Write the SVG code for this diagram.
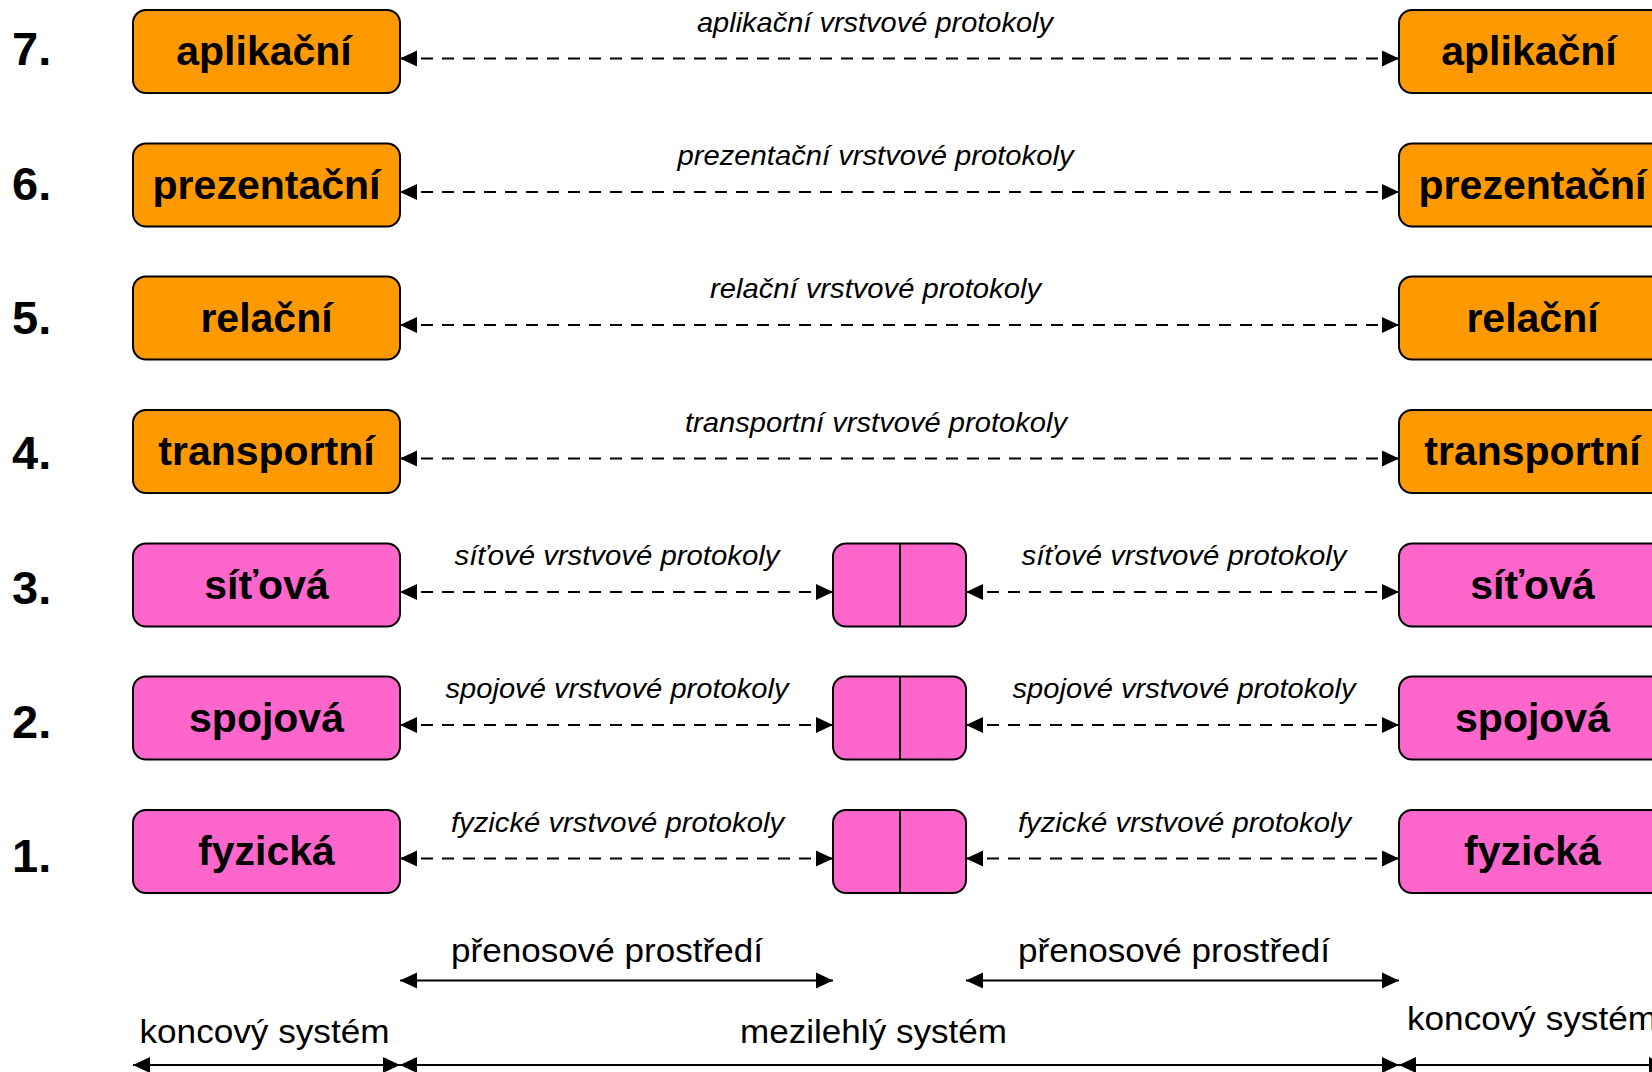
<svg xmlns="http://www.w3.org/2000/svg" width="1652" height="1072" viewBox="0 0 1652 1072">
  <defs>
    <style>
      .bg { fill: #ffffff; }
      .upper { fill: #FF9900; stroke: #000; stroke-width: 2; }
      .lower { fill: #FF66CC; stroke: #000; stroke-width: 2; }
      .div { stroke: #000; stroke-width: 2; }
      .name { font-family: "Liberation Sans", Arial, sans-serif; font-weight: bold; font-size: 41px; text-anchor: middle; fill: #000; }
      .num { font-family: "Liberation Sans", Arial, sans-serif; font-weight: bold; font-size: 47px; fill: #000; }
      .proto { font-family: "Liberation Sans", Arial, sans-serif; font-style: italic; font-size: 28px; text-anchor: middle; fill: #000; }
      .span { font-family: "Liberation Sans", Arial, sans-serif; font-size: 33px; text-anchor: middle; fill: #000; }
      .dash { fill: none; stroke: #000; stroke-width: 2; stroke-dasharray: 12 9; marker-start: url(#head); marker-end: url(#head); }
      .solid { fill: none; stroke: #000; stroke-width: 2; marker-start: url(#head); marker-end: url(#head); }
    </style>
    <marker id="head" markerUnits="userSpaceOnUse" markerWidth="17" markerHeight="16" refX="17" refY="8" orient="auto-start-reverse" overflow="visible">
      <path d="M0,0 L17,8 L0,16 Z" fill="#000" stroke="none"/>
    </marker>
  </defs>

  <rect class="bg" x="0" y="0" width="1652" height="1072"/>

  <!-- layer numbers -->
  <g id="layer-numbers">
    <text class="num" x="12" y="65">7.</text>
    <text class="num" x="12" y="199.5">6.</text>
    <text class="num" x="12" y="334">5.</text>
    <text class="num" x="12" y="468.5">4.</text>
    <text class="num" x="12" y="604">3.</text>
    <text class="num" x="12" y="738">2.</text>
    <text class="num" x="12" y="872">1.</text>
  </g>

  <!-- left end system -->
  <g id="left-aplikacni"><rect class="upper" x="133" y="10" width="267" height="83" rx="13"/><text class="name" x="264" y="65">aplikační</text></g>
  <g id="left-prezentacni"><rect class="upper" x="133" y="143.5" width="267" height="83" rx="13"/><text class="name" x="266.5" y="198.5">prezentační</text></g>
  <g id="left-relacni"><rect class="upper" x="133" y="276.5" width="267" height="83" rx="13"/><text class="name" x="266.5" y="331.5">relační</text></g>
  <g id="left-transportni"><rect class="upper" x="133" y="410" width="267" height="83" rx="13"/><text class="name" x="266.5" y="465">transportní</text></g>
  <g id="left-sitova"><rect class="lower" x="133" y="543.5" width="267" height="83" rx="13"/><text class="name" x="266.5" y="598.5">síťová</text></g>
  <g id="left-spojova"><rect class="lower" x="133" y="676.5" width="267" height="83" rx="13"/><text class="name" x="266.5" y="731.5">spojová</text></g>
  <g id="left-fyzicka"><rect class="lower" x="133" y="810" width="267" height="83" rx="13"/><text class="name" x="266.5" y="865">fyzická</text></g>

  <!-- intermediate system -->
  <g id="mid-sitova"><rect class="lower" x="833" y="543.5" width="133" height="83" rx="13"/><line class="div" x1="900" y1="543.5" x2="900" y2="626.5"/></g>
  <g id="mid-spojova"><rect class="lower" x="833" y="676.5" width="133" height="83" rx="13"/><line class="div" x1="900" y1="676.5" x2="900" y2="759.5"/></g>
  <g id="mid-fyzicka"><rect class="lower" x="833" y="810" width="133" height="83" rx="13"/><line class="div" x1="900" y1="810" x2="900" y2="893"/></g>

  <!-- right end system -->
  <g id="right-aplikacni"><rect class="upper" x="1399" y="10" width="267" height="83" rx="13"/><text class="name" x="1529" y="65">aplikační</text></g>
  <g id="right-prezentacni"><rect class="upper" x="1399" y="143.5" width="267" height="83" rx="13"/><text class="name" x="1532.5" y="198.5">prezentační</text></g>
  <g id="right-relacni"><rect class="upper" x="1399" y="276.5" width="267" height="83" rx="13"/><text class="name" x="1532.5" y="331.5">relační</text></g>
  <g id="right-transportni"><rect class="upper" x="1399" y="410" width="267" height="83" rx="13"/><text class="name" x="1532.5" y="465">transportní</text></g>
  <g id="right-sitova"><rect class="lower" x="1399" y="543.5" width="267" height="83" rx="13"/><text class="name" x="1532.5" y="598.5">síťová</text></g>
  <g id="right-spojova"><rect class="lower" x="1399" y="676.5" width="267" height="83" rx="13"/><text class="name" x="1532.5" y="731.5">spojová</text></g>
  <g id="right-fyzicka"><rect class="lower" x="1399" y="810" width="267" height="83" rx="13"/><text class="name" x="1532.5" y="865">fyzická</text></g>

  <!-- peer protocol connectors -->
  <g id="connectors">
    <path class="dash" d="M400,58.5 H1399"/>
    <path class="dash" d="M400,192 H1399"/>
    <path class="dash" d="M400,325 H1399"/>
    <path class="dash" d="M400,458.5 H1399"/>
    <path class="dash" d="M400,592 H833"/>
    <path class="dash" d="M966,592 H1399"/>
    <path class="dash" d="M400,725 H833"/>
    <path class="dash" d="M966,725 H1399"/>
    <path class="dash" d="M400,858.5 H833"/>
    <path class="dash" d="M966,858.5 H1399"/>

    <!-- spans of medium and systems -->
    <path class="solid" d="M400,980.5 H833"/>
    <path class="solid" d="M966,980.5 H1399"/>
    <path class="solid" d="M133,1065 H400"/>
    <path class="solid" d="M400,1065 H1399"/>
    <path class="solid" d="M1399,1065 H1666"/>
  </g>

  <!-- connector labels -->
  <g id="protocol-labels">
    <text class="proto" x="875" y="31.5" textLength="356" lengthAdjust="spacingAndGlyphs">aplikační vrstvové protokoly</text>
    <text class="proto" x="875.5" y="165" textLength="396" lengthAdjust="spacingAndGlyphs">prezentační vrstvové protokoly</text>
    <text class="proto" x="875.5" y="298" textLength="331" lengthAdjust="spacingAndGlyphs">relační vrstvové protokoly</text>
    <text class="proto" x="876" y="431.5" textLength="382" lengthAdjust="spacingAndGlyphs">transportní vrstvové protokoly</text>
    <text class="proto" x="617" y="565" textLength="325" lengthAdjust="spacingAndGlyphs">síťové vrstvové protokoly</text>
    <text class="proto" x="1184" y="565" textLength="325" lengthAdjust="spacingAndGlyphs">síťové vrstvové protokoly</text>
    <text class="proto" x="617" y="698" textLength="343" lengthAdjust="spacingAndGlyphs">spojové vrstvové protokoly</text>
    <text class="proto" x="1184" y="698" textLength="343" lengthAdjust="spacingAndGlyphs">spojové vrstvové protokoly</text>
    <text class="proto" x="617.5" y="831.5" textLength="333" lengthAdjust="spacingAndGlyphs">fyzické vrstvové protokoly</text>
    <text class="proto" x="1184.5" y="831.5" textLength="333" lengthAdjust="spacingAndGlyphs">fyzické vrstvové protokoly</text>
  </g>

  <g id="span-labels">
    <text class="span" x="607" y="962" textLength="312" lengthAdjust="spacingAndGlyphs">přenosové prostředí</text>
    <text class="span" x="1174" y="962" textLength="312" lengthAdjust="spacingAndGlyphs">přenosové prostředí</text>
    <text class="span" x="264.5" y="1043" textLength="250" lengthAdjust="spacingAndGlyphs">koncový systém</text>
    <text class="span" x="873.5" y="1043" textLength="267" lengthAdjust="spacingAndGlyphs">mezilehlý systém</text>
    <text class="span" x="1532" y="1030" textLength="250" lengthAdjust="spacingAndGlyphs">koncový systém</text>
  </g>
</svg>
